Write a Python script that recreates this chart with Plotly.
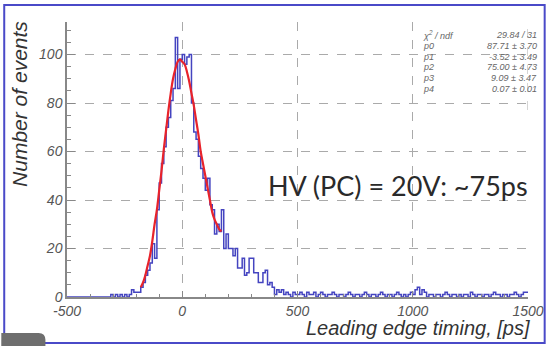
import numpy as np
import plotly.graph_objects as go

# Histogram: 10 ps bins from -500 to 1500 ps (left edges listed per row)
bin_lo, bin_hi, bin_w = -500, 1500, 10
counts = [
    0, 0, 0, 0, 0, 0, 0, 0, 0, 0,            # -500 .. -410
    0, 0, 0, 0, 0, 0, 0, 0, 0, 1,            # -400 .. -310
    0, 1, 0, 1, 0, 1, 0, 1, 3, 2,            # -300 .. -210
    2, 2, 4, 6, 9, 11, 14, 22, 16, 36,       # -200 .. -110
    47, 55, 62, 70, 74, 81, 86, 107, 86, 98, # -100 .. -10
    100, 96, 99, 100, 80, 68, 65, 58, 53, 49,  # 0 .. 90
    44, 49, 38, 36, 26, 30, 27, 36, 20, 26,  # 100 .. 190
    20, 20, 17, 20, 12, 12, 16, 9, 10, 16,   # 200 .. 290
    16, 10, 10, 6, 6, 10, 11, 5, 6, 4,       # 300 .. 390
    1, 3, 2, 3, 1, 2, 1, 0, 2, 1,            # 400 .. 490
    1, 2, 1, 0, 2, 1, 1, 2, 0, 1,            # 500 .. 590
    2, 1, 0, 1, 1, 2, 1, 0, 1, 1,            # 600 .. 690
    0, 1, 2, 1, 0, 1, 1, 0, 1, 2,            # 700 .. 790
    1, 0, 1, 1, 0, 1, 2, 1, 0, 1,            # 800 .. 890
    1, 0, 1, 2, 1, 0, 1, 0, 1, 2,            # 900 .. 990
    1, 3, 4, 1, 3, 2, 0, 1, 1, 0,            # 1000 .. 1090
    1, 1, 0, 1, 2, 1, 0, 1, 1, 0,            # 1100 .. 1190
    1, 0, 1, 1, 0, 2, 1, 0, 1, 1,            # 1200 .. 1290
    0, 1, 1, 0, 1, 2, 1, 1, 0, 1,            # 1300 .. 1390
    1, 0, 1, 1, 2, 1, 0, 1, 2, 2,            # 1400 .. 1490
]
edges = np.arange(bin_lo, bin_hi + bin_w, bin_w)
assert len(counts) == len(edges) - 1

# Fitted curve (ps, events)
fit_x = [-180, -170, -160, -150, -140, -130, -120, -110, -100, -90, -80, -70,
         -60, -50, -40, -30, -20, -10, 0, 10, 20, 30, 40, 50, 60, 70, 80, 90,
         100, 110, 120, 130, 140, 150, 160, 170]
fit_y = [4, 6, 9, 13, 17, 23, 30, 36, 44, 52, 61, 69,
         77, 84, 90, 94, 97, 98, 97, 96, 93, 89, 84, 79, 73, 67, 60, 55,
         50, 45, 40, 35, 32, 30, 28, 27]

# Fit statistics
stat_names = ["\u03c7<sup>2</sup> / ndf", "p0", "p1", "p2", "p3", "p4"]
stat_values = ["29.84 / 31", "87.71 \u00b1 3.70", "-3.52 \u00b1 3.49",
               "75.00 \u00b1 4.73", "9.09 \u00b1 3.47", "0.07 \u00b1 0.01"]

x_ticks = [-500, 0, 500, 1000, 1500]
x_ticktext = ["-500", "0", "500", "1000", "1500"]
y_ticks = [0, 20, 40, 60, 80, 100]

W, H = 556, 346
ML, MR, MT, MB = 67, 19, 22, 49
PW, PH = W - ML - MR, H - MT - MB


def px(xp):
    return (xp - ML) / PW


def py(yp):
    return (H - MB - yp) / PH


tick_font = dict(family="Liberation Sans", size=14, color="#555", style="italic")

fig = go.Figure()

step_x = list(edges[:-1]) + [edges[-1]]
step_y = list(counts) + [counts[-1]]
fig.add_trace(go.Scatter(x=step_x, y=step_y, mode="lines", line_shape="hv",
                         line=dict(color="#4444c0", width=1.5),
                         hoverinfo="skip", showlegend=False))
fig.add_trace(go.Scatter(x=fit_x, y=fit_y, mode="lines", line_shape="spline",
                         line=dict(color="#e8232b", width=2.2),
                         hoverinfo="skip", showlegend=False))

fig.update_xaxes(range=[bin_lo, bin_hi], tickvals=x_ticks, ticktext=x_ticktext,
                 ticks="inside", ticklen=6, tickcolor="#888", tickwidth=1,
                 minor=dict(dtick=100, ticks="inside", ticklen=3, tickcolor="#888"),
                 showline=True, linecolor="#888", linewidth=1.5,
                 showgrid=True, gridcolor="#aaa", griddash="dash", gridwidth=1,
                 zeroline=False, tickfont=tick_font)
fig.update_yaxes(range=[0, 113.4], tickvals=y_ticks,
                 ticks="inside", ticklen=8, tickcolor="#888", tickwidth=1,
                 minor=dict(dtick=5, ticks="inside", ticklen=4, tickcolor="#888"),
                 showline=True, linecolor="#888", linewidth=1.5,
                 showgrid=True, gridcolor="#aaa", griddash="dash", gridwidth=1,
                 zeroline=False, tickfont=tick_font)

shapes = [
    # stats panel background
    dict(type="rect", xref="paper", yref="paper", x0=px(423), x1=px(556),
         y0=py(110), y1=py(18), fillcolor="white", line_width=0, layer="between"),
    dict(type="line", xref="x", yref="paper", x0=1500, x1=1500, y0=py(110), y1=1,
         line=dict(color="#aaa", width=1, dash="dash"), layer="between"),
    # slide frame
    dict(type="rect", xref="paper", yref="paper", x0=px(3), x1=px(554),
         y0=py(343), y1=py(5), line=dict(color="#4a4ac8", width=2),
         fillcolor="rgba(0,0,0,0)", layer="above"),
    # tab at bottom left
    dict(type="path", xref="paper", yref="paper",
         path=(f"M {px(0)},{py(346)} L {px(0)},{py(333)} L {px(38)},{py(333)} "
               f"Q {px(45)},{py(333)} {px(45)},{py(340)} L {px(45)},{py(346)} Z"),
         fillcolor="#6e6e6e", line_width=0, layer="above"),
]

annotations = [
    dict(text="Leading edge timing, [ps]", xref="paper", yref="paper",
         x=px(541), y=py(328), xanchor="right", yanchor="middle", showarrow=False,
         font=dict(family="Liberation Sans", size=20, color="#333", style="italic")),
    dict(text="Number of events", xref="paper", yref="paper", textangle=-90,
         x=px(19), y=py(19), xanchor="center", yanchor="top", showarrow=False,
         font=dict(family="Liberation Sans", size=21, color="#333", style="italic")),
    dict(text="HV (PC) = 20V: ~75ps", xref="paper", yref="paper",
         x=px(404), y=py(185), xanchor="center", yanchor="middle", showarrow=False,
         font=dict(family="Lato", size=27, color="#2a2a2a")),
]
for i, (name, val) in enumerate(zip(stat_names, stat_values)):
    yy = py(35 + 10.8 * i)
    annotations.append(dict(text=name, xref="paper", yref="paper", x=px(428), y=yy,
                            xanchor="left", yanchor="middle", showarrow=False,
                            font=dict(family="Liberation Sans", size=9, color="#666",
                                      style="italic")))
    annotations.append(dict(text=val, xref="paper", yref="paper", x=px(548), y=yy,
                            xanchor="right", yanchor="middle", showarrow=False,
                            font=dict(family="Liberation Sans", size=9, color="#666",
                                      style="italic")))

fig.update_layout(width=W, height=H, margin=dict(l=ML, r=MR, t=MT, b=MB),
                  paper_bgcolor="white", plot_bgcolor="white",
                  shapes=shapes, annotations=annotations, showlegend=False)

fig.write_html("out.html")
